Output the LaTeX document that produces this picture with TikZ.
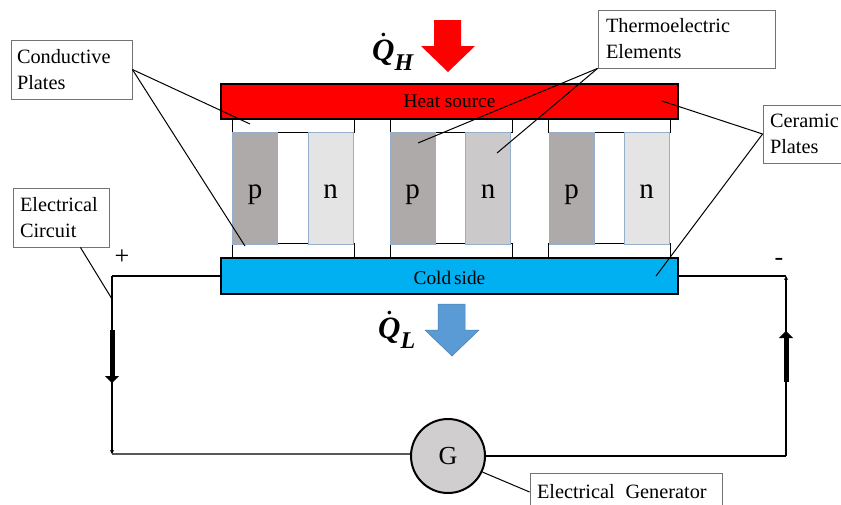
\documentclass[tikz,border=0pt]{standalone}
\usepackage{amsmath}
\usepackage{fontspec}
\setmainfont{Liberation Serif}
\usetikzlibrary{arrows.meta, shapes.geometric}
\definecolor{hotcolor}{RGB}{255,0,0}
\definecolor{coldcolor}{RGB}{0,176,240}
\definecolor{pcolor}{RGB}{174,170,170}
\definecolor{ncolor}{RGB}{228,228,228}
\definecolor{ndarkcolor}{RGB}{203,201,202}
\definecolor{legline}{RGB}{150,175,205}
\definecolor{gencolor}{RGB}{208,206,206}
\definecolor{bluearrow}{RGB}{91,155,213}
\newcommand{\qsub}[1]{\text{\raisebox{-4pt}{\fontsize{24}{26}\selectfont\bfseries\itshape #1}}}
\tikzset{
    labelbox/.style={draw=black!55, fill=white, line width=0.8pt, align=left, inner sep=0pt, font=\fontsize{20.3}{26}\selectfont},
    plate/.style={draw=black, line width=2pt, inner sep=0pt, minimum width=457pt, minimum height=35pt, font=\fontsize{19.3}{22}\selectfont},
    condplate/.style={draw=black, line width=1pt, fill=white, inner sep=0pt, minimum width=122pt, minimum height=15pt},
    leg/.style={draw=legline, line width=0.6pt, inner sep=0pt, minimum width=45pt, minimum height=112pt, text height=26pt, text depth=6pt, font=\fontsize{29}{32}\selectfont},
    leader/.style={draw=black, line width=1pt},
    wire/.style={draw=black, line width=1.1pt},
    current/.style={line width=5pt, -{Triangle[length=7pt,width=14pt]}},
    qlabel/.style={inner sep=0pt, font=\fontsize{31}{34}\selectfont}
}
\begin{document}
\begin{tikzpicture}[x=1pt, y=-1pt]
    \clip (0,0) rectangle (841,504);
    \fill[white] (0,0) rectangle (841,504);

    % Conductive plates
    \node[condplate] (topa) at (293,125) {};
    \node[condplate] (topb) at (451,125) {};
    \node[condplate] (topc) at (609,125) {};
    \node[condplate] (bota) at (293,251) {};
    \node[condplate] (botb) at (451,251) {};
    \node[condplate] (botc) at (609,251) {};

    % Thermoelectric legs
    \node[leg, fill=pcolor] (pa) at (255,188) {p};
    \node[leg, fill=ncolor] (na) at (330.5,188) {n};
    \node[leg, fill=pcolor] (pb) at (412.5,188) {p};
    \node[leg, fill=ndarkcolor] (nb) at (488,188) {n};
    \node[leg, fill=pcolor] (pc) at (571.5,188) {p};
    \node[leg, fill=ncolor] (nc) at (646.5,188) {n};

    % Hot and cold plates
    \node[plate, fill=hotcolor] (hot) at (449.5,101) {Heat source};
    \node[plate, fill=coldcolor, minimum height=36pt, text height=17pt] (cold) at (449.5,276) {Cold\hspace{3pt}side};

    % Heat flow
    \fill[hotcolor] (434,20) -- (461,20) -- (461,46) -- (475,46) -- (448,72) -- (421,46) -- (434,46) -- cycle;
    \draw[bluearrow!80!black, fill=bluearrow, line width=0.5pt] (438,304) -- (465,304) -- (465,330) -- (479,330) -- (452,356) -- (425,330) -- (438,330) -- cycle;
    \node[qlabel] (qh) at (393,52) {$\boldsymbol{\dot{\text{\bfseries\itshape Q}}}_{\qsub{H}}$};
    \node[qlabel] (ql) at (397,330) {$\boldsymbol{\dot{\text{\bfseries\itshape Q}}}_{\qsub{L}}$};

    % Electrical circuit
    \node[draw=black, line width=2pt, circle, fill=gencolor, minimum size=74pt, inner sep=0pt, font=\fontsize{26}{28}\selectfont] (gen) at (448,456) {G};
    \coordinate (cornera) at (112,276);
    \coordinate (cornerb) at (112,454);
    \coordinate (cornerc) at (786,456);
    \coordinate (cornerd) at (786,276);
    \draw[wire] (cold.west) -- (cornera);
    \draw[wire, -{Stealth[length=4pt,width=4pt]}] (cornera) -- (cornerb);
    \draw[wire] (cornerb) -- (gen.177);
    \draw[wire] (gen.0) -- (cornerc);
    \draw[wire, -{Stealth[length=4pt,width=4pt]}] (cornerc) -- (cornerd);
    \draw[wire] (cornerd) -- (cold.east);

    % Current arrows
    \coordinate (curastart) at (112,330);
    \coordinate (curaend) at (112,383);
    \coordinate (curbstart) at (786,382);
    \coordinate (curbend) at (786,331);
    \draw[current] (curastart) -- (curaend);
    \draw[current] (curbstart) -- (curbend);
    \node[font=\fontsize{26}{28}\selectfont, inner sep=0pt] (plus) at (122,257) {+};
    \node[font=\fontsize{26}{28}\selectfont, inner sep=0pt] (minus) at (779,262) {-};

    % Label boxes
    \node[labelbox, minimum width=121pt, minimum height=59pt, text width=109pt] (conductive) at (71.5,69.5) {Conductive\\Plates};
    \node[labelbox, minimum width=96pt, minimum height=59pt, text width=82pt] (circuit) at (61,217.5) {Electrical\\Circuit};
    \node[labelbox, minimum width=177pt, minimum height=58pt, text width=161pt] (thermo) at (686.5,39) {Thermoelectric\\Elements};
    \node[labelbox, minimum width=120pt, minimum height=58pt, text width=106pt] (ceramic) at (823,134) {Ceramic\\Plates};
    \node[labelbox, minimum width=192pt, minimum height=38pt, text width=178pt] (genbox) at (626,492) {Electrical\hspace{4pt} Generator};

    % Leader lines
    \coordinate (leadcondtop) at (250,124);
    \coordinate (leadcondbot) at (245,246);
    \coordinate (leadcircuit) at (112,299);
    \coordinate (leadtherma) at (418,143);
    \coordinate (leadthermb) at (497,153);
    \coordinate (leadcertop) at (662,101);
    \coordinate (leadcerbot) at (656,276);
    \draw[leader] (conductive.east) -- (leadcondtop);
    \draw[leader] (conductive.east) -- (leadcondbot);
    \draw[leader] (circuit.-57) -- (leadcircuit);
    \draw[leader] (thermo.south west) -- (leadtherma);
    \draw[leader] (thermo.south west) -- (leadthermb);
    \draw[leader] (ceramic.west) -- (leadcertop);
    \draw[leader] (ceramic.west) -- (leadcerbot);
    \draw[leader] (gen.-25) -- (genbox.west);
\end{tikzpicture}
\end{document}
